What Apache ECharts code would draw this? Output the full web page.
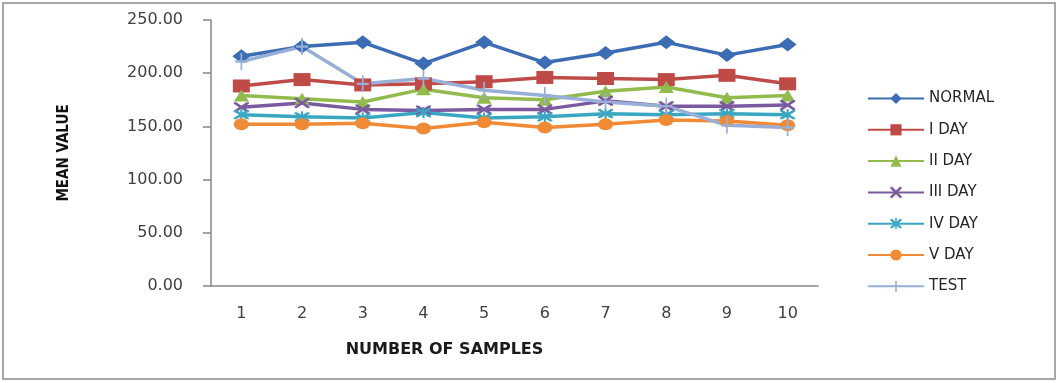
<!DOCTYPE html>
<html>
<head>
<meta charset="utf-8">
<script src="https://cdn.jsdelivr.net/npm/echarts@6/dist/echarts.min.js"></script>
<style>
  html, body { margin: 0; padding: 0; background: #fff; }
  #chart { width: 1057px; height: 383px; }
</style>
</head>
<body>
<div id="chart"></div>
<script>
// Sample numbers along the category axis
const samples = ['1', '2', '3', '4', '5', '6', '7', '8', '9', '10'];

// Mean values per group
const normal = [216, 225, 229, 209, 229, 210, 219, 229, 217, 227];
const dayI   = [188, 194, 189, 190, 192, 196, 195, 194, 198, 190];
const dayII  = [179, 176, 173, 185, 177, 175, 183, 187, 177, 179];
const dayIII = [168, 172, 166, 165, 166, 166, 174, 169, 169, 170];
const dayIV  = [161, 159, 158, 163, 158, 159, 162, 161, 162, 161];
const dayV   = [152, 152, 153, 148, 154, 149, 152, 156, 155, 151];
const test   = [211, 225, 190, 195, 184, 179, 173, 169, 151, 149];

// Y axis tick values
const yTicks = [0, 50, 100, 150, 200, 250];

// Marker outlines
const xMark = 'path://M0,0 L1.6,0 L5,3.4 L8.4,0 L10,0 L10,1.6 L6.6,5 L10,8.4 L10,10 L8.4,10 L5,6.6 L1.6,10 L0,10 L0,8.4 L3.4,5 L0,1.6 Z';
const starMark = 'path://M0,0 L1.6,0 L5,3.4 L8.4,0 L10,0 L10,1.6 L6.6,5 L10,8.4 L10,10 L8.4,10 L5,6.6 L1.6,10 L0,10 L0,8.4 L3.4,5 L0,1.6 Z M4.3,-1 L5.7,-1 L5.7,11 L4.3,11 Z';
const plusMark = 'path://M4.3,0 L5.7,0 L5.7,4.3 L10,4.3 L10,5.7 L5.7,5.7 L5.7,10 L4.3,10 L4.3,5.7 L0,5.7 L0,4.3 L4.3,4.3 Z';

const groups = [
  { name: 'NORMAL', data: normal, color: '#3C6DB4', symbol: 'diamond', size: [18, 14] },
  { name: 'I DAY',  data: dayI,   color: '#BE4B48', symbol: 'rect', size: [17, 13] },
  { name: 'II DAY', data: dayII,  color: '#92BB4E', symbol: 'triangle', size: [15, 12] },
  { name: 'III DAY', data: dayIII, color: '#7B5AA0', symbol: xMark, size: [15, 10] },
  { name: 'IV DAY', data: dayIV,  color: '#3AA7C2', symbol: starMark, size: [15, 11] },
  { name: 'V DAY',  data: dayV,   color: '#F08A35', symbol: 'circle', size: [15, 12] },
  { name: 'TEST',   data: test,   color: '#98AFD8', symbol: plusMark, size: [12, 17] }
];

const chart = echarts.init(document.getElementById('chart'), null, { renderer: 'canvas' });

chart.setOption({
  animation: false,
  backgroundColor: '#ffffff',
  graphic: [{
    type: 'rect',
    shape: { x: 3, y: 3, width: 1052, height: 376 },
    style: { fill: 'none', stroke: '#a6a6a6', lineWidth: 2 },
    silent: true,
    z: -1
  }],
  grid: { left: 211, right: 239, top: 20, bottom: 97, containLabel: false },
  legend: {
    orient: 'vertical',
    left: 862,
    top: 86,
    itemWidth: 56,
    itemHeight: 14,
    itemGap: 16.3,
    textStyle: { fontFamily: 'DejaVu Sans', fontSize: 15, color: '#262626' },
    data: groups.map(g => g.name)
  },
  xAxis: {
    type: 'category',
    data: samples,
    boundaryGap: true,
    name: 'NUMBER OF SAMPLES',
    nameLocation: 'middle',
    nameGap: 56,
    nameTextStyle: {
      fontFamily: 'DejaVu Sans', fontWeight: 'bold', fontSize: 16, color: '#1a1a1a',
      padding: [0, 140, 0, 0]
    },
    axisLine: { lineStyle: { color: '#868686', width: 1.5 } },
    axisTick: { show: false },
    axisLabel: { fontFamily: 'DejaVu Sans', fontSize: 16, color: '#404040', margin: 20 }
  },
  yAxis: {
    type: 'value',
    min: yTicks[0],
    max: yTicks[yTicks.length - 1],
    interval: 50,
    name: 'MEAN VALUE',
    nameLocation: 'middle',
    nameGap: 139,
    nameRotate: 90,
    nameTextStyle: {
      fontFamily: "'DejaVu Sans Condensed', 'DejaVu Sans', sans-serif",
      fontWeight: 'bold', fontSize: 15, color: '#111'
    },
    splitLine: { show: false },
    axisLine: { show: true, lineStyle: { color: '#868686', width: 1.5 } },
    axisTick: { show: true, length: 8, lineStyle: { color: '#868686', width: 1.5 } },
    axisLabel: {
      fontFamily: 'DejaVu Sans', fontSize: 16, color: '#404040', margin: 28,
      formatter: v => v.toFixed(2)
    }
  },
  series: groups.map(g => ({
    name: g.name,
    type: 'line',
    data: g.data,
    symbol: g.symbol,
    symbolSize: g.size,
    showAllSymbol: true,
    lineStyle: { color: g.color, width: 3.5 },
    itemStyle: { color: g.color, borderWidth: 0 }
  }))
});
</script>
</body>
</html>
